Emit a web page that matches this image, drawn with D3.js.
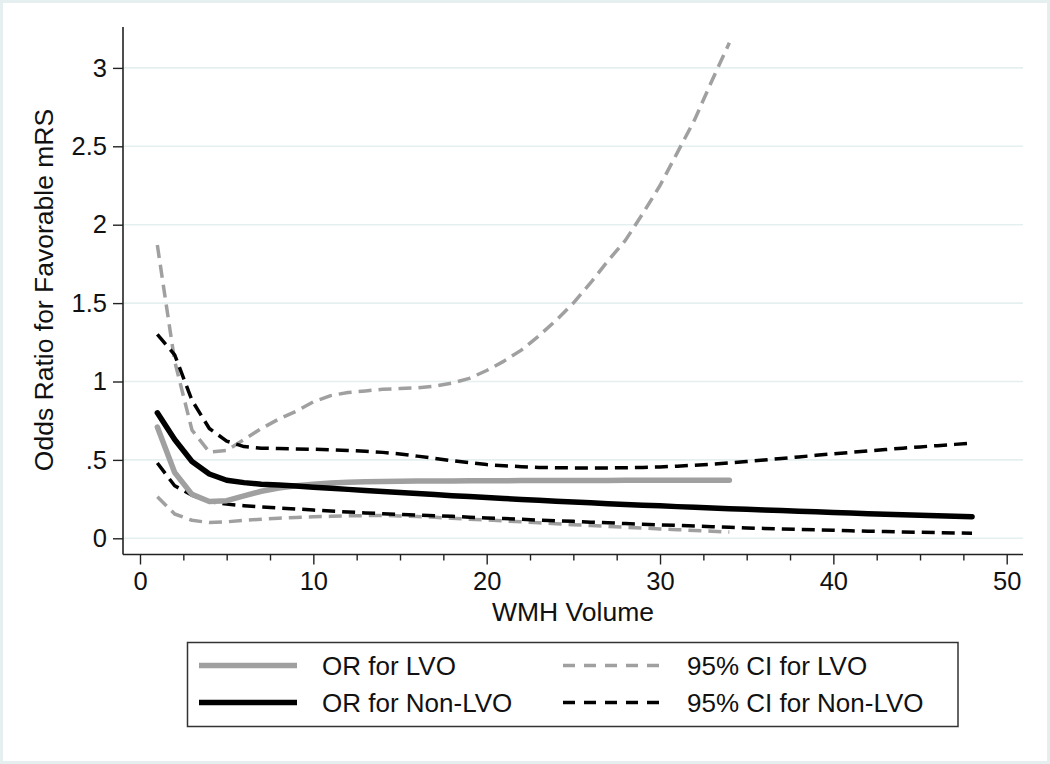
<!DOCTYPE html>
<html><head><meta charset="utf-8">
<script src="https://cdn.jsdelivr.net/npm/d3@7"></script>
<style>
html,body{margin:0;padding:0;background:#fff;}
svg{display:block;font-family:"Liberation Sans",Arial,Helvetica,sans-serif;}
</style></head>
<body>
<svg id="chart" width="1050" height="764"></svg>
<script>
// ---- data ----
const wmhOR_LVO = [1,2,3,4,5,6,7,8,9,10,11,12,13,14,15,16,17,18,19,20,21,22,23,24,25,26,27,28,29,30,31,32,33,34];
const orLVO = [0.71,0.42,0.28,0.235,0.24,0.27,0.30,0.32,0.335,0.345,0.352,0.357,0.36,0.362,0.364,0.365,0.366,0.366,0.367,0.367,0.367,0.368,0.368,0.368,0.369,0.369,0.369,0.37,0.37,0.37,0.37,0.371,0.371,0.371];
const ciLVO_upper = [1.87,1.13,0.69,0.55,0.56,0.63,0.70,0.76,0.81,0.87,0.91,0.93,0.94,0.95,0.955,0.96,0.97,0.99,1.02,1.07,1.13,1.2,1.29,1.39,1.5,1.63,1.77,1.9,2.07,2.25,2.46,2.67,2.92,3.16];
const ciLVO_lower = [0.265,0.155,0.115,0.1,0.105,0.115,0.122,0.128,0.133,0.137,0.14,0.143,0.145,0.146,0.143,0.139,0.134,0.128,0.122,0.117,0.111,0.105,0.099,0.093,0.087,0.081,0.076,0.07,0.065,0.06,0.055,0.05,0.045,0.04];

const wmhNonLVO = [1,2,3,4,5,6,7,8,9,10,11,12,13,14,15,16,17,18,19,20,21,22,23,24,25,26,27,28,29,30,31,32,33,34,35,36,37,38,39,40,41,42,43,44,45,46,47,48];
const orNonLVO = [0.80,0.63,0.49,0.41,0.37,0.355,0.345,0.34,0.333,0.326,0.319,0.312,0.305,0.299,0.292,0.285,0.279,0.272,0.266,0.26,0.254,0.248,0.243,0.237,0.232,0.226,0.221,0.216,0.211,0.207,0.202,0.198,0.193,0.189,0.185,0.181,0.177,0.173,0.169,0.165,0.161,0.157,0.154,0.15,0.147,0.144,0.141,0.138];
const ciNonLVO_upper = [1.30,1.17,0.88,0.70,0.62,0.585,0.575,0.572,0.57,0.568,0.565,0.56,0.555,0.548,0.538,0.524,0.51,0.495,0.482,0.47,0.463,0.457,0.452,0.45,0.449,0.449,0.449,0.45,0.452,0.455,0.46,0.466,0.473,0.481,0.49,0.499,0.509,0.519,0.529,0.539,0.548,0.557,0.566,0.575,0.583,0.591,0.599,0.607];
const ciNonLVO_lower = [0.48,0.335,0.275,0.235,0.218,0.208,0.2,0.193,0.187,0.18,0.174,0.168,0.162,0.157,0.153,0.148,0.144,0.14,0.135,0.13,0.126,0.121,0.116,0.112,0.108,0.103,0.099,0.094,0.09,0.086,0.082,0.078,0.074,0.07,0.066,0.063,0.06,0.057,0.054,0.051,0.048,0.045,0.043,0.04,0.038,0.036,0.034,0.032];

const xMajorTicks = [0,10,20,30,40,50];
const xMinorTicks = [2.5,5,7.5,12.5,15,17.5,22.5,25,27.5,32.5,35,37.5,42.5,45,47.5];
const yTicks = [0,0.5,1,1.5,2,2.5,3];
const yTickLabels = ["0",".5","1","1.5","2","2.5","3"];
const legendLabels = ["OR for LVO","OR for Non-LVO","95% CI for LVO","95% CI for Non-LVO"];
const xTitle = "WMH Volume";
const yTitle = "Odds Ratio for Favorable mRS";

// ---- drawing ----
const svg = d3.select("#chart");
const W = 1050, H = 764;
svg.append("rect").attr("x",1.5).attr("y",1.5).attr("width",W-3).attr("height",H-3)
  .attr("fill","#fff").attr("stroke","#e6eff0").attr("stroke-width",3);

const x = d3.scaleLinear().domain([0,50]).range([140,1006.7]);
const y = d3.scaleLinear().domain([0,3]).range([538.3,67.9]);
const plotL = 123, plotR = 1023, plotT = 27, plotB = 554.5;

// gridlines
svg.append("g").selectAll("line").data(yTicks).join("line")
  .attr("x1",plotL).attr("x2",plotR).attr("y1",d=>y(d)).attr("y2",d=>y(d))
  .attr("stroke","#e6efef").attr("stroke-width",1.6);

// axes
const yAxis = d3.axisLeft(y).tickValues(yTicks).tickSize(10).tickPadding(6)
  .tickFormat((d,i)=>yTickLabels[i]);
const gy = svg.append("g").attr("transform",`translate(${plotL},0)`).call(yAxis);
gy.select(".domain").remove();
gy.selectAll(".tick line").attr("stroke","#222").attr("stroke-width",1.4);
gy.selectAll(".tick text").attr("font-size",25.5).attr("fill","#111")
  .attr("font-family","'Liberation Sans',Arial,sans-serif");

const xAxis = d3.axisBottom(x).tickValues(xMajorTicks).tickSize(10).tickPadding(7)
  .tickFormat(d3.format("d"));
const gx = svg.append("g").attr("transform",`translate(0,${plotB})`).call(xAxis);
gx.select(".domain").remove();
gx.selectAll(".tick line").attr("stroke","#222").attr("stroke-width",1.4);
gx.selectAll(".tick text").attr("font-size",25.5).attr("fill","#111")
  .attr("font-family","'Liberation Sans',Arial,sans-serif");
const xAxisMinor = d3.axisBottom(x).tickValues(xMinorTicks).tickSize(6).tickFormat("");
const gxm = svg.append("g").attr("transform",`translate(0,${plotB})`).call(xAxisMinor);
gxm.select(".domain").remove();
gxm.selectAll(".tick line").attr("stroke","#222").attr("stroke-width",1.4);

svg.append("line").attr("x1",plotL).attr("x2",plotL).attr("y1",plotT).attr("y2",plotB)
  .attr("stroke","#222").attr("stroke-width",1.6);
svg.append("line").attr("x1",plotL).attr("x2",plotR).attr("y1",plotB).attr("y2",plotB)
  .attr("stroke","#222").attr("stroke-width",1.6);

// titles
svg.append("text").attr("x",573).attr("y",621).attr("text-anchor","middle")
  .attr("font-size",26.5).attr("fill","#111").text(xTitle);
svg.append("text").attr("transform","translate(53,290) rotate(-90)").attr("text-anchor","middle")
  .attr("font-size",26.5).attr("fill","#111").text(yTitle);

// series
const grayC = "#a0a0a0", blackC = "#000";
function series(xs, ys, color, width, dash){
  const line = d3.line().x((d,i)=>x(xs[i])).y(d=>y(d));
  svg.append("path").datum(ys).attr("d",line).attr("fill","none")
    .attr("stroke",color).attr("stroke-width",width)
    .attr("stroke-linejoin","round").attr("stroke-linecap",dash?"butt":"round")
    .attr("stroke-dasharray",dash||null);
}
series(wmhOR_LVO, ciLVO_upper, grayC, 3.5, "13,7");
series(wmhOR_LVO, ciLVO_lower, grayC, 3.5, "13,7");
series(wmhNonLVO, ciNonLVO_upper, blackC, 3.5, "13,7");
series(wmhNonLVO, ciNonLVO_lower, blackC, 3.5, "13,7");
series(wmhOR_LVO, orLVO, grayC, 5.5, null);
series(wmhNonLVO, orNonLVO, blackC, 5.5, null);

// legend
const lg = svg.append("g");
lg.append("rect").attr("x",187.5).attr("y",642.5).attr("width",770.5).attr("height",84)
  .attr("fill","#fff").attr("stroke","#333").attr("stroke-width",1.5);
const legendItems = [
  {label:legendLabels[0], color:grayC, w:5.5, dash:null, x0:199, x1:297, tx:322, cy:665.5},
  {label:legendLabels[1], color:blackC, w:5.5, dash:null, x0:199, x1:297, tx:322, cy:702.5},
  {label:legendLabels[2], color:grayC, w:3.5, dash:"12,9", x0:563, x1:662, tx:687, cy:665.5},
  {label:legendLabels[3], color:blackC, w:3.5, dash:"12,9", x0:563, x1:662, tx:687, cy:702.5}
];
legendItems.forEach(it=>{
  lg.append("line").attr("x1",it.x0).attr("x2",it.x1).attr("y1",it.cy).attr("y2",it.cy)
    .attr("stroke",it.color).attr("stroke-width",it.w).attr("stroke-dasharray",it.dash);
  lg.append("text").attr("x",it.tx).attr("y",it.cy+9.5).attr("font-size",26)
    .attr("fill","#111").text(it.label);
});
</script>
</body></html>
